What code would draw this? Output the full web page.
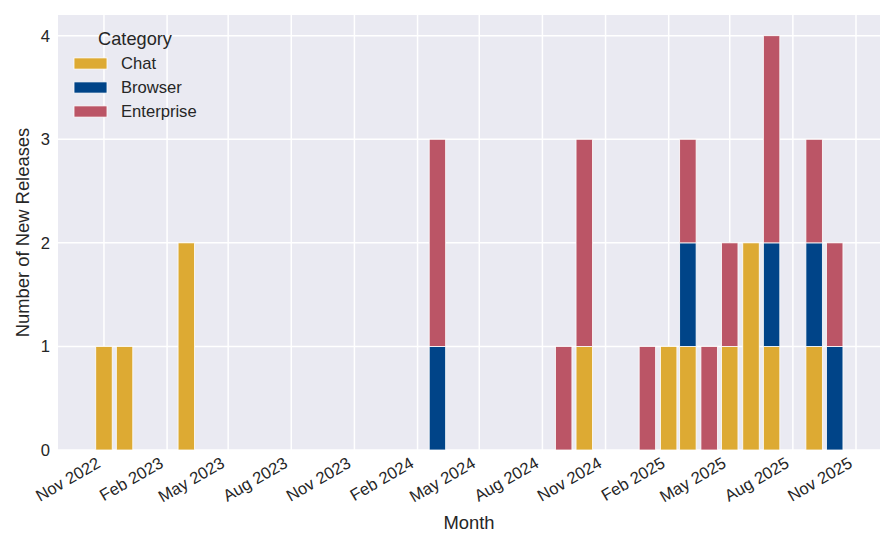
<!DOCTYPE html>
<html>
<head>
<meta charset="utf-8">
<script src="https://cdn.jsdelivr.net/npm/d3@7"></script>
<style>
  body { margin: 0; background: #fff; }
  text { font-family: "Liberation Sans", Arial, Helvetica, sans-serif; fill: #262626; }
</style>
</head>
<body>
<div class="container"></div>
<script>
// Data
const months = ["2022-11", "2022-12", "2023-03", "2024-03", "2024-09", "2024-10",
  "2025-01", "2025-02", "2025-03", "2025-04", "2025-05", "2025-06", "2025-07",
  "2025-09", "2025-10"];
const chat       = [1, 1, 2, 0, 0, 1, 0, 1, 1, 0, 1, 2, 1, 1, 0];
const browser    = [0, 0, 0, 1, 0, 0, 0, 0, 1, 0, 0, 0, 1, 1, 1];
const enterprise = [0, 0, 0, 2, 1, 2, 1, 0, 1, 1, 1, 0, 2, 1, 1];

const categories = ["Chat", "Browser", "Enterprise"];
const colors = ["#DDAA33", "#004488", "#BB5566"];

const xTickMonths = ["2022-11", "2023-02", "2023-05", "2023-08", "2023-11", "2024-02",
  "2024-05", "2024-08", "2024-11", "2025-02", "2025-05", "2025-08", "2025-11"];
const yTicks = [0, 1, 2, 3, 4];

const width = 896;
const height = 550;
const margin = { top: 15, right: 16, bottom: 100, left: 58 };

const parseMonth = d3.utcParse("%Y-%m");
const fmtMonth = d3.utcFormat("%b %Y");
const DAY = 24 * 3600 * 1000;

const rows = months.map((m, i) => ({
  date: parseMonth(m),
  Chat: chat[i],
  Browser: browser[i],
  Enterprise: enterprise[i],
}));

const svg = d3
  .select(".container")
  .append("svg")
  .attr("width", width)
  .attr("height", height);

const xScale = d3
  .scaleUtc()
  .domain([new Date(Date.UTC(2022, 7, 26)), new Date(Date.UTC(2025, 11, 6))])
  .range([margin.left, width - margin.right]);

const yScale = d3
  .scaleLinear()
  .domain([0, 4.2])
  .range([height - margin.bottom, margin.top]);

// Plot background
svg
  .append("rect")
  .attr("x", margin.left)
  .attr("y", margin.top)
  .attr("width", width - margin.right - margin.left)
  .attr("height", height - margin.bottom - margin.top)
  .attr("fill", "#EAEAF2");

// Grid
const xTicks = xTickMonths.map(parseMonth);

svg
  .append("g")
  .selectAll("line")
  .data(xTicks)
  .enter()
  .append("line")
  .attr("x1", (d) => xScale(d))
  .attr("x2", (d) => xScale(d))
  .attr("y1", margin.top)
  .attr("y2", height - margin.bottom)
  .attr("stroke", "#fff")
  .attr("stroke-width", 1.5);

svg
  .append("g")
  .selectAll("line")
  .data(yTicks)
  .enter()
  .append("line")
  .attr("x1", margin.left)
  .attr("x2", width - margin.right)
  .attr("y1", (d) => yScale(d))
  .attr("y2", (d) => yScale(d))
  .attr("stroke", "#fff")
  .attr("stroke-width", 1.5);

// Stacked bars
const stack = d3.stack().keys(categories);
const series = stack(rows);

svg
  .append("g")
  .selectAll("g")
  .data(series)
  .enter()
  .append("g")
  .attr("fill", (d, i) => colors[i])
  .selectAll("rect")
  .data((d) => d.filter((p) => p[1] - p[0] > 0))
  .enter()
  .append("rect")
  .attr("x", (d) => xScale(new Date(d.data.date.getTime() - 12 * DAY)))
  .attr("width", (d) =>
    xScale(new Date(d.data.date.getTime() + 12 * DAY)) -
    xScale(new Date(d.data.date.getTime() - 12 * DAY)))
  .attr("y", (d) => yScale(d[1]))
  .attr("height", (d) => yScale(d[0]) - yScale(d[1]))
  .attr("stroke", "#fff")
  .attr("stroke-width", 0.8);

// X axis labels
const xAxis = d3
  .axisBottom(xScale)
  .tickValues(xTicks)
  .tickFormat(fmtMonth)
  .tickSize(0)
  .tickPadding(0);

const gx = svg
  .append("g")
  .attr("transform", "translate(0," + (height - margin.bottom) + ")")
  .call(xAxis);
gx.select(".domain").remove();
gx.selectAll("text")
  .attr("font-size", 16.6)
  .attr("fill", "#262626")
  .attr("text-anchor", "end")
  .attr("dominant-baseline", "hanging")
  .attr("dy", null)
  .attr("y", 0)
  .attr("transform", "translate(-9,6) rotate(-30)");

// Y axis labels
const yAxis = d3
  .axisLeft(yScale)
  .tickValues(yTicks)
  .tickFormat(d3.format("d"))
  .tickSize(0)
  .tickPadding(8);

const gy = svg
  .append("g")
  .attr("transform", "translate(" + margin.left + ",0)")
  .call(yAxis);
gy.select(".domain").remove();
gy.selectAll("text").attr("font-size", 16.6).attr("fill", "#262626");

// Axis titles
svg
  .append("text")
  .attr("x", (margin.left + width - margin.right) / 2)
  .attr("y", 529)
  .attr("text-anchor", "middle")
  .attr("font-size", 18.4)
  .text("Month");

svg
  .append("text")
  .attr("transform", "translate(22," + (margin.top + height - margin.bottom) / 2 + ") rotate(-90)")
  .attr("text-anchor", "middle")
  .attr("dominant-baseline", "central")
  .attr("font-size", 18.4)
  .text("Number of New Releases");

// Legend
const legend = svg.append("g").attr("transform", "translate(74,0)");

legend
  .append("text")
  .attr("x", 61)
  .attr("y", 45)
  .attr("text-anchor", "middle")
  .attr("font-size", 18.2)
  .text("Category");

const items = legend
  .selectAll("g.item")
  .data(categories)
  .enter()
  .append("g")
  .attr("class", "item")
  .attr("transform", (d, i) => "translate(0," + (63.5 + i * 24) + ")");

items
  .append("rect")
  .attr("x", 0)
  .attr("y", -5.6)
  .attr("width", 33)
  .attr("height", 11.2)
  .attr("fill", (d, i) => colors[i])
  .attr("stroke", "#fff")
  .attr("stroke-width", 0.8);

items
  .append("text")
  .attr("x", 47)
  .attr("y", 0)
  .attr("dominant-baseline", "central")
  .attr("font-size", 16.6)
  .text((d) => d);
</script>
</body>
</html>
